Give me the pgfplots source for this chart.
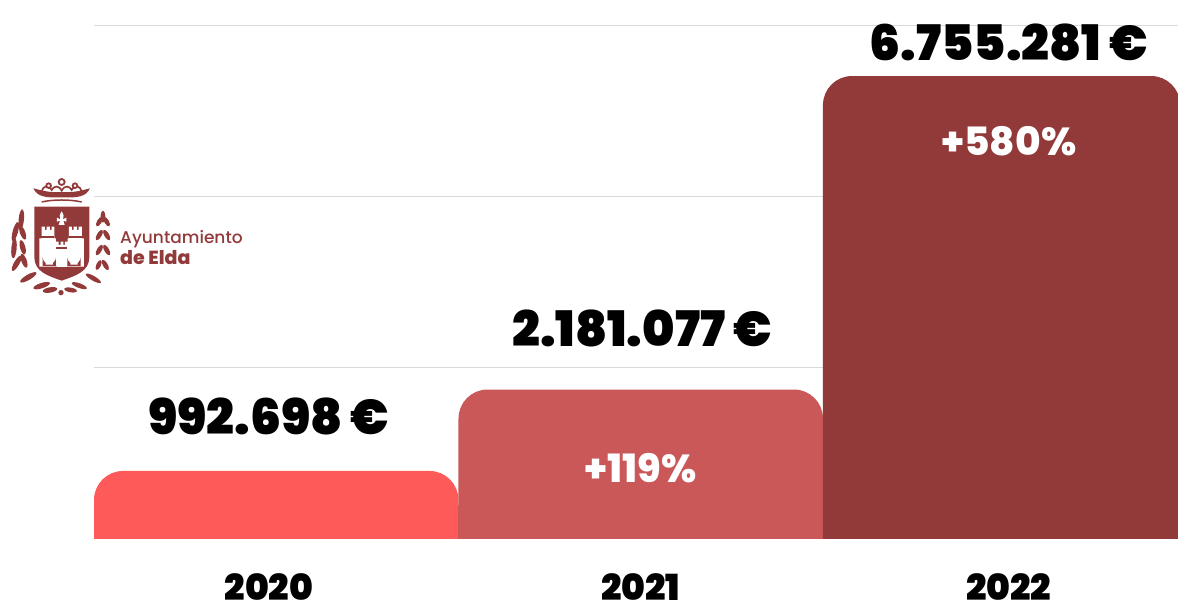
\documentclass[border=0pt]{standalone}
\usepackage{fontspec}
\usepackage{pgfplots}
\pgfplotsset{compat=1.18}
\setmainfont{Poppins}
\newfontfamily\blackfont{Poppins Black}
\newfontfamily\xbfont{Poppins ExtraBold}
\newfontfamily\medfont{Poppins Medium}
\definecolor{cA}{HTML}{FF5A5A}
\definecolor{cB}{HTML}{CB5859}
\definecolor{cC}{HTML}{923A3A}
\definecolor{gridc}{HTML}{D9D9D9}
\begin{document}
\begin{tikzpicture}
\useasboundingbox (0,0) rectangle (1178pt,604pt);
\begin{axis}[
  at={(94pt,65pt)}, anchor=south west,
  scale only axis, width=1084pt, height=514pt,
  xmin=-0.5, xmax=2.474, ymin=0, ymax=7500000,
  axis line style={draw=none},
  xtick={-0.02,1,2.01}, xticklabels={2020,2021,2022},
  ytick={2500000,5000000,7500000}, yticklabels={},
  ymajorgrids, grid style={gridc,line width=0.9pt},
  major tick length=0pt,
  xticklabel style={font=\blackfont\fontsize{36}{36}\selectfont, yshift=-34pt, text=black, inner sep=0pt},
  clip mode=individual,
  scaled y ticks=false,
]
% bars: rounded top, with a square base so that only the top corners are round
\addplot[fill=cA,draw=none,rounded corners=29pt] coordinates {(-0.5,0)(-0.5,992698)(0.5,992698)(0.5,0)};
\addplot[fill=cA,draw=none] coordinates {(-0.5,0)(-0.5,500000)(0.5,500000)(0.5,0)};
\addplot[fill=cB,draw=none,rounded corners=29pt] coordinates {(0.5,0)(0.5,2181077)(1.5,2181077)(1.5,0)};
\addplot[fill=cB,draw=none] coordinates {(0.5,0)(0.5,500000)(1.5,500000)(1.5,0)};
\addplot[fill=cC,draw=none,rounded corners=29pt] coordinates {(1.5,0)(1.5,6755281)(2.48,6755281)(2.48,0)};
\addplot[fill=cC,draw=none] coordinates {(1.5,0)(1.5,500000)(2.48,500000)(2.48,0)};
\node[font=\blackfont\fontsize{49}{49}\selectfont] at (axis cs:-0.02,1785000) {992.698\,€};
\node[font=\blackfont\fontsize{49}{49}\selectfont] at (axis cs:1.004,3065000) {2.181.077\,€};
\node[font=\blackfont\fontsize{49}{49}\selectfont] at (axis cs:2.01,7250000) {6.755.281\,€};
\node[font=\xbfont\fontsize{39}{39}\selectfont,text=white] at (axis cs:1,1030000) {+119\%};
\node[font=\xbfont\fontsize{39}{39}\selectfont,text=white] at (axis cs:2.01,5800000) {+580\%};
\end{axis}
\begin{scope}[shift={(0pt,434pt)},x=0.3333pt,y=-0.3333pt]
\fill[cC] (103,110) -- (268,110) -- (268,262) .. controls (268,305) and (225,318) .. (185,332) .. controls (145,318) and (103,305) .. (103,262) -- cycle;
% fleur
\fill[white] (185,124) .. controls (191,134) and (193,140) .. (189,148) -- (199,143) -- (199,155) -- (190,152) -- (194,165) -- (176,165) -- (180,152) -- (171,155) -- (171,143) -- (181,148) .. controls (177,140) and (179,134) .. (185,124) -- cycle;
% castle
\fill[white] (125,170)--(135,170)--(135,180)--(140,180)--(140,170)--(150,170)--(150,180)--(155,180)--(155,170)--(163,170)--(163,205)--(168,205)--(168,215)--(176,215)--(176,225)--(182,225)--(182,215)--(190,215)--(190,225)--(195,225)--(195,215)--(203,215)--(203,205)--(207,205)--(207,170)--(216,170)--(216,180)--(221,180)--(221,170)--(231,170)--(231,180)--(236,180)--(236,170)--(246,170)--(246,205)--(252,205)--(252,290)--(118,290)--(118,205)--(125,205)--cycle;
\fill[cC] (122,198) rectangle (162,203);
\fill[cC] (208,198) rectangle (248,203);
\fill[cC] (128,288) -- (128,262) arc[start angle=180,end angle=0,radius=20] -- (168,288) -- cycle;
\fill[cC] (202,288) -- (202,262) arc[start angle=180,end angle=0,radius=20] -- (242,288) -- cycle;
\fill[white] (137,284) -- (137,264) arc[start angle=180,end angle=0,radius=11] -- (159,284) -- cycle;
\fill[white] (211,284) -- (211,264) arc[start angle=180,end angle=0,radius=11] -- (233,284) -- cycle;
\fill[white] (170,240) rectangle (200,290);
\fill[cC] (168,232) rectangle (202,237);
% crown
\fill[cC] (100,55) .. controls (128,62) and (145,68) .. (185,66) .. controls (225,68) and (242,62) .. (270,55) .. controls (258,80) and (235,84) .. (185,82) .. controls (135,84) and (112,80) .. (100,55) -- cycle;
\draw[cC,line width=1.5pt] (125,96) .. controls (160,88) and (210,88) .. (245,96);
\draw[cC,line width=1.7pt] (125,65) .. controls (128,48) and (145,42) .. (155,60) .. controls (162,48) and (175,44) .. (185,62) .. controls (195,44) and (208,48) .. (215,60) .. controls (225,42) and (242,48) .. (245,65);
\foreach \px/\py/\r in {185/36/9,146/47/7,225/47/7}{\draw[cC,line width=1.8pt,fill=white] (\px,\py) circle (\r);}
% leaves left
\foreach \px/\py/\a/\l in {64/148/85/30,46/185/75/30,68/188/-70/22,42/235/85/30,68/232/-75/22,50/280/60/26,72/272/-70/22,85/322/30/28,125/347/18/26,150/360/10/22}{
  \fill[cC,rotate around={\a:(\px,\py)}] (\px,\py) ellipse[x radius=\l,y radius=8];}
% leaves right
\foreach \px/\py/\a/\l in {309/140/90/18,298/155/60/16,320/155/-60/16,298/195/60/18,320/195/-60/18,298/240/60/18,320/240/-60/18,296/285/65/16,316/285/-60/18,280/325/-30/26,238/347/-20/24,212/360/-10/20}{
  \fill[cC,rotate around={\a:(\px,\py)}] (\px,\py) ellipse[x radius=\l,y radius=7];}
\fill[cC] (183,368) circle (8);
\end{scope}
\node[anchor=west,font=\medfont\fontsize{17}{17}\selectfont,text=cC,inner sep=0pt] at (120pt,365pt) {Ayuntamiento};
\node[anchor=west,font=\xbfont\fontsize{19}{19}\selectfont,text=cC,inner sep=0pt] at (120pt,346pt) {de Elda};
\end{tikzpicture}
\end{document}
